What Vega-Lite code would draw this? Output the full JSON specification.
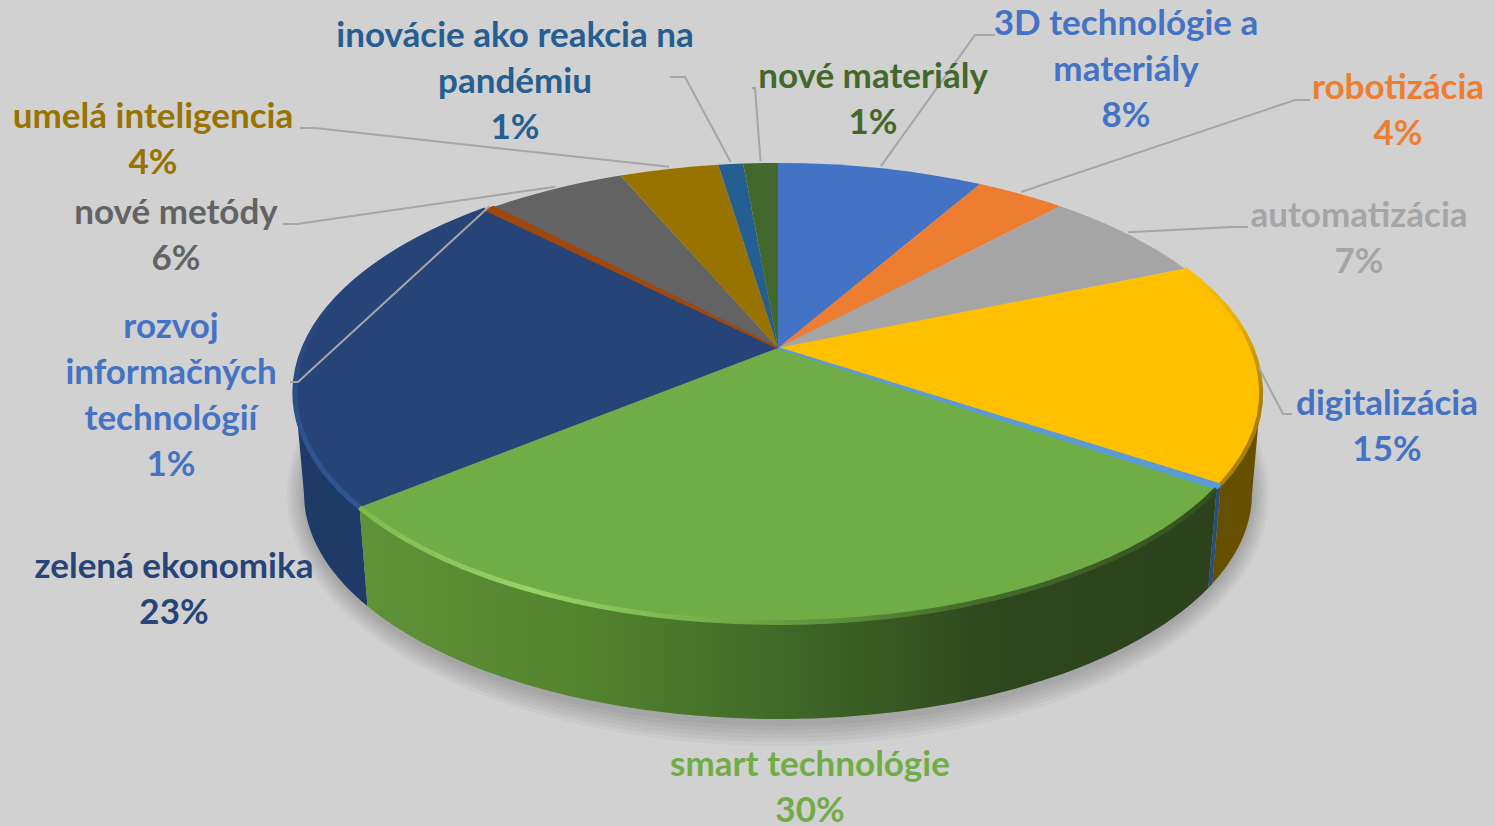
{
"$schema":"https://vega.github.io/schema/vega-lite/v6.json",
"width":1495,"height":826,"padding":0,"autosize":{"type":"none"},"background":"#D1D1D1",
"config":{"view":{"stroke":null},"text":{"font":"Lato"}},
"data":{"values":[
{"name":"3D technológie a materiály","share":8.3,"percent":8},
{"name":"robotizácia","share":3.6,"percent":4},
{"name":"automatizácia","share":6.8,"percent":7},
{"name":"digitalizácia","share":15.6,"percent":15},
{"name":"bez popisu","share":0.3,"percent":null},
{"name":"smart technológie","share":29.5,"percent":30},
{"name":"zelená ekonomika","share":23.5,"percent":23},
{"name":"rozvoj informačných technológií","share":0.4,"percent":1},
{"name":"nové metódy","share":5.6,"percent":6},
{"name":"umelá inteligencia","share":4.0,"percent":4},
{"name":"inovácie ako reakcia na pandémiu","share":1.0,"percent":1},
{"name":"nové materiály","share":1.4,"percent":1}
]},
"transform":[
{"window":[{"op":"sum","field":"share","as":"cum"}]},
{"calculate":"2*PI*(datum.cum-datum.share)/100","as":"t0"},
{"calculate":"2*PI*datum.cum/100","as":"t1"},
{"calculate":"round(47400*sin(datum.t0)/(1+0.194*cos(datum.t0)))/100","as":"x0"},
{"calculate":"round(-22100*cos(datum.t0)/(1+0.194*cos(datum.t0)))/100","as":"y0"},
{"calculate":"round(47400*sin(datum.t1)/(1+0.194*cos(datum.t1)))/100","as":"x1"},
{"calculate":"round(-22100*cos(datum.t1)/(1+0.194*cos(datum.t1)))/100","as":"y1"},
{"calculate":"'M0 0L'+datum.x0+' '+datum.y0+'A483 229.7 0 0 1 '+datum.x1+' '+datum.y1+'Z'","as":"top"},
{"calculate":"'M'+datum.x0+' '+datum.y0+'A483 229.7 0 0 1 '+datum.x1+' '+datum.y1","as":"rim"},
{"calculate":"max(datum.t0,1.766)","as":"ta"},
{"calculate":"min(datum.t1,4.517)","as":"tb"},
{"calculate":"round(47400*sin(datum.ta)/(1+0.194*cos(datum.ta)))/100","as":"ax"},
{"calculate":"round(-22100*cos(datum.ta)/(1+0.194*cos(datum.ta)))/100","as":"ay"},
{"calculate":"round(47400*sin(datum.tb)/(1+0.194*cos(datum.tb)))/100","as":"bx"},
{"calculate":"round(-22100*cos(datum.tb)/(1+0.194*cos(datum.tb)))/100","as":"by"},
{"calculate":"'M'+datum.ax+' '+datum.ay+'A483 229.7 0 0 1 '+datum.bx+' '+datum.by+'L'+(0.981*datum.bx)+' '+(0.981*(datum.by-44.5)+145.5)+'A473.8 225.3 0 0 0 '+(0.981*datum.ax)+' '+(0.981*(datum.ay-44.5)+145.5)+'Z'","as":"wall"},
{"calculate":"{'3D technológie a materiály':{w:'3D technológie a|materiály',x:1126,y:35,c:'#4472C4',e:[975,35],f:[995,35]},'robotizácia':{w:'robotizácia',x:1398,y:99,c:'#ED7D31',e:[1295,100],f:[1310,100]},'automatizácia':{w:'automatizácia',x:1359,y:227,c:'#A5A5A5',e:[1232,227],f:[1248,227]},'digitalizácia':{w:'digitalizácia',x:1387,y:415,c:'#4472C4',e:[1283,414],f:[1292,414]},'bez popisu':{w:'',x:0,y:0,c:'#5B9BD5',e:[0,0],f:[0,0]},'smart technológie':{w:'smart technológie',x:810,y:776,c:'#70AD47',e:[0,0],f:[0,0]},'zelená ekonomika':{w:'zelená ekonomika',x:174,y:578,c:'#264478',e:[0,0],f:[0,0]},'rozvoj informačných technológií':{w:'rozvoj|informačných|technológií',x:171,y:338,c:'#4472C4',e:[298,382],f:[290,382]},'nové metódy':{w:'nové metódy',x:176,y:224,c:'#636363',e:[297,224],f:[283,224]},'umelá inteligencia':{w:'umelá inteligencia',x:153,y:128,c:'#997300',e:[315,128],f:[300,128]},'inovácie ako reakcia na pandémiu':{w:'inovácie ako reakcia na|pandémiu',x:515,y:47,c:'#255E91',e:[685,77],f:[670,77]},'nové materiály':{w:'nové materiály',x:873,y:88,c:'#43682B',e:[755,88],f:[752,88]}}[datum.name]","as":"tb_"},
{"calculate":"split(datum.tb_.w+'|'+datum.percent+'%','|')","as":"lines"},
{"calculate":"datum.tb_.x","as":"lx"},
{"calculate":"datum.tb_.y","as":"ly"},
{"calculate":"datum.tb_.c","as":"lc"},
{"calculate":"(datum.t0+datum.t1)/2","as":"tm"},
{"calculate":"'M'+round(47400*sin(datum.tm)/(1+0.194*cos(datum.tm)))/100+' '+(round(-22100*cos(datum.tm)/(1+0.194*cos(datum.tm)))/100-2)+'L'+(datum.tb_.e[0]-778)+' '+(datum.tb_.e[1]-348)+'L'+(datum.tb_.f[0]-778)+' '+(datum.tb_.f[1]-348)","as":"leader"},
{"calculate":"datum.name=='digitalizácia'?'#665000':datum.name=='bez popisu'?'#2A4D7A':datum.name=='zelená ekonomika'?'#1E3A66':'#2B421C'","as":"wc"},
{"calculate":"778","as":"cx"},
{"calculate":"348","as":"cy"}
],
"encoding":{
"x":{"field":"cx","type":"quantitative","scale":{"domain":[0,1495],"range":[0,1495]},"axis":null},
"y":{"field":"cy","type":"quantitative","scale":{"domain":[0,826],"range":[0,826]},"axis":null}
},
"layer":[
{"transform":[{"filter":"datum.name=='smart technológie'"}],"mark":{"type":"point","filled":true,"size":4,"opacity":0.03,"fill":"#000","stroke":null},"encoding":{"shape":{"value":"M-491 146A491 252 0 0 1 491 146A491 252 0 0 1 -491 146Z"}}},
{"transform":[{"filter":"datum.name=='smart technológie'"}],"mark":{"type":"point","filled":true,"size":4,"opacity":0.035,"fill":"#000","stroke":null},"encoding":{"shape":{"value":"M-488 146A488 248 0 0 1 488 146A488 248 0 0 1 -488 146Z"}}},
{"transform":[{"filter":"datum.name=='smart technológie'"}],"mark":{"type":"point","filled":true,"size":4,"opacity":0.035,"fill":"#000","stroke":null},"encoding":{"shape":{"value":"M-485 146A485 244 0 0 1 485 146A485 244 0 0 1 -485 146Z"}}},
{"transform":[{"filter":"datum.name=='smart technológie'"}],"mark":{"type":"point","filled":true,"size":4,"opacity":0.035,"fill":"#000","stroke":null},"encoding":{"shape":{"value":"M-482 146A482 240 0 0 1 482 146A482 240 0 0 1 -482 146Z"}}},
{"transform":[{"filter":"datum.name=='smart technológie'"}],"mark":{"type":"point","filled":true,"size":4,"opacity":0.035,"fill":"#000","stroke":null},"encoding":{"shape":{"value":"M-479 146A479 236 0 0 1 479 146A479 236 0 0 1 -479 146Z"}}},
{"transform":[{"filter":"datum.name=='smart technológie'"}],"mark":{"type":"point","filled":true,"size":4,"opacity":0.035,"fill":"#000","stroke":null},"encoding":{"shape":{"value":"M-476 146A476 232 0 0 1 476 146A476 232 0 0 1 -476 146Z"}}},
{"transform":[{"filter":"datum.t1>1.766 && datum.t0<4.517 && datum.name!='smart technológie'"}],"mark":{"type":"point","filled":true,"size":4,"opacity":1,"stroke":null},"encoding":{"shape":{"field":"wall","type":"nominal","scale":null,"legend":null},"color":{"field":"wc","type":"nominal","scale":null,"legend":null}}},
{"transform":[{"filter":"datum.name=='smart technológie'"}],"mark":{"type":"point","filled":true,"size":4,"opacity":1,"stroke":null,"fill":{"gradient":"linear","x1":0,"y1":0,"x2":1,"y2":0,"stops":[{"offset":0,"color":"#5F9338"},{"offset":0.25,"color":"#55842F"},{"offset":0.5,"color":"#3F6827"},{"offset":0.75,"color":"#2D471D"},{"offset":1,"color":"#2B421C"}]}},"encoding":{"shape":{"field":"wall","type":"nominal","scale":null,"legend":null}}},
{"transform":[{"filter":"datum.name!='bez popisu' && datum.name!='rozvoj informačných technológií'"}],"mark":{"type":"point","filled":true,"size":4,"opacity":1,"stroke":null},"encoding":{"shape":{"field":"top","type":"nominal","scale":null,"legend":null},"color":{"field":"name","type":"nominal","legend":null,"scale":{"domain":["3D technológie a materiály","robotizácia","automatizácia","digitalizácia","bez popisu","smart technológie","zelená ekonomika","rozvoj informačných technológií","nové metódy","umelá inteligencia","inovácie ako reakcia na pandémiu","nové materiály"],"range":["#4472C4","#ED7D31","#A5A5A5","#FFC000","#5B9BD5","#70AD47","#264478","#9E480E","#636363","#997300","#255E91","#43682B"]}}}},
{"transform":[{"filter":"datum.name=='bez popisu' || datum.name=='rozvoj informačných technológií'"}],"mark":{"type":"point","filled":true,"size":4,"opacity":1,"strokeWidth":2},"encoding":{"shape":{"field":"top","type":"nominal","scale":null,"legend":null},"fill":{"field":"name","type":"nominal","legend":null,"scale":{"domain":["bez popisu","rozvoj informačných technológií"],"range":["#5B9BD5","#9E480E"]}},"stroke":{"field":"name","type":"nominal","legend":null,"scale":{"domain":["bez popisu","rozvoj informačných technológií"],"range":["#5B9BD5","#9E480E"]}}}},
{"transform":[{"filter":"datum.name=='smart technológie'"}],"mark":{"type":"point","filled":false,"size":4,"opacity":1,"strokeWidth":5,"strokeCap":"butt","stroke":{"gradient":"linear","x1":0,"y1":0,"x2":1,"y2":0,"stops":[{"offset":0,"color":"#7DBB50"},{"offset":0.2,"color":"#96D468"},{"offset":0.45,"color":"#6FA846"},{"offset":0.7,"color":"#466E2C"},{"offset":1,"color":"#33501F"}]}},"encoding":{"shape":{"field":"rim","type":"nominal","scale":null,"legend":null}}},
{"transform":[{"filter":"datum.name=='zelená ekonomika'"}],"mark":{"type":"point","filled":false,"size":4,"opacity":1,"strokeWidth":5,"strokeCap":"butt","stroke":{"gradient":"linear","x1":0,"y1":0,"x2":0,"y2":1,"stops":[{"offset":0,"color":"#264478"},{"offset":0.3,"color":"#264478"},{"offset":0.7,"color":"#2E528C"},{"offset":1,"color":"#2F5590"}]}},"encoding":{"shape":{"field":"rim","type":"nominal","scale":null,"legend":null}}},
{"transform":[{"filter":"datum.name=='digitalizácia'"}],"mark":{"type":"point","filled":false,"size":4,"opacity":1,"strokeWidth":4,"strokeCap":"butt","stroke":{"gradient":"linear","x1":0,"y1":0,"x2":0,"y2":1,"stops":[{"offset":0,"color":"#FFC000"},{"offset":0.25,"color":"#E8AE00"},{"offset":0.6,"color":"#A98000"},{"offset":1,"color":"#A98000"}]}},"encoding":{"shape":{"field":"rim","type":"nominal","scale":null,"legend":null}}},
{"transform":[{"filter":"datum.percent!=null && datum.name!='smart technológie' && datum.name!='zelená ekonomika'"}],"mark":{"type":"point","filled":false,"size":4,"opacity":1,"strokeWidth":2,"stroke":"#A6A6A6"},"encoding":{"shape":{"field":"leader","type":"nominal","scale":null,"legend":null}}},
{"transform":[{"filter":"datum.percent!=null"}],"mark":{"type":"text","font":"Lato","fontWeight":"bold","fontSize":35,"lineHeight":46,"align":"center","baseline":"alphabetic"},"encoding":{"x":{"field":"lx","type":"quantitative"},"y":{"field":"ly","type":"quantitative"},"text":{"field":"lines"},"color":{"field":"lc","type":"nominal","scale":null,"legend":null}}}
]
}
